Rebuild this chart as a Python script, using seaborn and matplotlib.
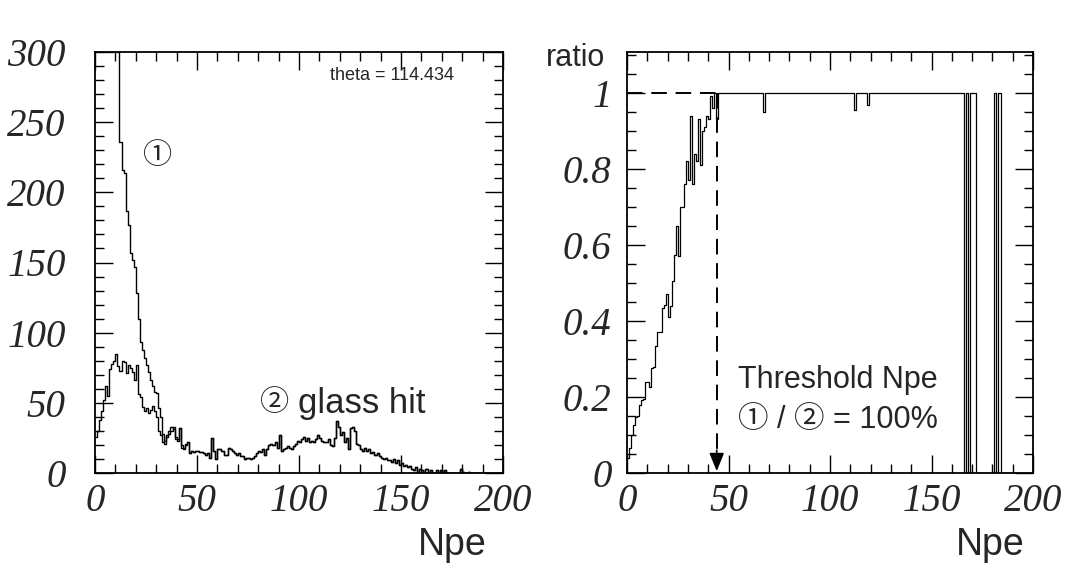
import numpy as np
import pandas as pd
import matplotlib
matplotlib.use("Agg")
import matplotlib.pyplot as plt
from matplotlib.ticker import MultipleLocator, FuncFormatter
import seaborn as sns

# ---------------- data (1 Npe bins, 0..199) ----------------
bin_left = list(range(200))

# histogram 2 : glass hit
hist2 = [
    26, 30, 38, 44, 52, 62, 55, 74, 78, 80,
    85, 76, 73, 80, 79, 71, 77, 75, 72, 66,
    77, 56, 54, 47, 44, 46, 43, 45, 48, 44,
    40, 30, 27, 22, 21, 26, 28, 30, 33, 24,
    23, 32, 18, 17, 20, 22, 14, 16, 15, 16,
    16, 15, 15, 14, 13, 14, 11, 25, 16, 10,
    17, 17, 16, 13, 13, 18, 17, 16, 14, 13,
    14, 12, 12, 10, 11, 11, 10, 11, 12, 14,
    16, 15, 17, 13, 17, 20, 21, 20, 22, 18,
    27, 16, 17, 18, 19, 18, 17, 19, 21, 23,
    22, 24, 26, 23, 25, 22, 23, 22, 24, 27,
    25, 23, 22, 22, 24, 20, 19, 25, 37, 33,
    27, 29, 22, 25, 17, 32, 33, 30, 21, 20,
    17, 16, 18, 16, 17, 14, 15, 13, 14, 12,
    11, 10, 11, 9, 9, 8, 10, 7, 9, 6,
    7, 5, 6, 4, 5, 3, 2, 4, 1, 3,
    2, 1, 3, 0, 2, 0, 0, 2, 0, 2,
    1, 2, 0, 0, 0, 0, 0, 0, 0, 3,
    1, 0, 0, 1, 0, 0, 0, 0, 0, 0,
    0, 0, 0, 0, 0, 0, 0, 0, 0, 0,
]

# histogram 1 : all hits, bins 0..44 (above that it coincides with hist2)
hist1_head = [
    560, 520, 500, 470, 440, 420, 400, 380, 360, 340,
    320, 300, 236, 216, 214, 187, 177, 157, 152, 147,
    128, 110, 93, 88, 82, 77, 72, 66, 62, 58,
    57, 46, 40, 28, 23, 27, 30, 33, 31, 26,
    24, 32, 20, 18, 21,
]

# ratio histogram
ratio = [
    0.04, 0.065, 0.10, 0.127, 0.148, 0.15, 0.18, 0.192, 0.195, 0.24,
    0.24, 0.225, 0.276, 0.28, 0.335, 0.37, 0.37, 0.435, 0.443, 0.47,
    0.41, 0.44, 0.504, 0.574, 0.65, 0.57, 0.70, 0.70, 0.76, 0.82,
    0.77, 0.94, 0.76, 0.84, 0.82, 0.93, 0.81, 0.90, 0.91, 0.94,
    0.93, 0.99, 0.96, 1.0, 0.93, 1.0, 1.0, 1.0, 1.0, 1.0,
    1.0, 1.0, 1.0, 1.0, 1.0, 1.0, 1.0, 1.0, 1.0, 1.0,
    1.0, 1.0, 1.0, 1.0, 1.0, 1.0, 1.0, 0.95, 1.0, 1.0,
    1.0, 1.0, 1.0, 1.0, 1.0, 1.0, 1.0, 1.0, 1.0, 1.0,
    1.0, 1.0, 1.0, 1.0, 1.0, 1.0, 1.0, 1.0, 1.0, 1.0,
    1.0, 1.0, 1.0, 1.0, 1.0, 1.0, 1.0, 1.0, 1.0, 1.0,
    1.0, 1.0, 1.0, 1.0, 1.0, 1.0, 1.0, 1.0, 1.0, 1.0,
    1.0, 1.0, 0.955, 1.0, 1.0, 1.0, 1.0, 1.0, 0.968, 1.0,
    1.0, 1.0, 1.0, 1.0, 1.0, 1.0, 1.0, 1.0, 1.0, 1.0,
    1.0, 1.0, 1.0, 1.0, 1.0, 1.0, 1.0, 1.0, 1.0, 1.0,
    1.0, 1.0, 1.0, 1.0, 1.0, 1.0, 1.0, 1.0, 1.0, 1.0,
    1.0, 1.0, 1.0, 1.0, 1.0, 1.0, 1.0, 1.0, 1.0, 1.0,
    1.0, 1.0, 1.0, 1.0, 1.0, 1.0, 0.0, 1.0, 0.0, 1.0,
    1.0, 1.0, 0.0, 0.0, 0.0, 0.0, 0.0, 0.0, 0.0, 0.0,
    0.0, 1.0, 0.0, 1.0, 0.0, 0.0, 0.0, 0.0, 0.0, 0.0,
    0.0, 0.0, 0.0, 0.0, 0.0, 0.0, 0.0, 0.0, 0.0, 0.0,
]

threshold_npe = 44.2
theta_text = "theta = 114.434"

x_ticks = [0, 50, 100, 150, 200]
left_yticks = [0, 50, 100, 150, 200, 250, 300]
right_yticks = [0, 0.2, 0.4, 0.6, 0.8, 1.0]

# ---------------- style ----------------
sns.set_style("ticks")
plt.rcParams["font.family"] = ["Liberation Sans", "Noto Sans CJK JP", "DejaVu Sans"]

fig = plt.figure(figsize=(10.68, 5.72), dpi=100)
W, H = 1068, 572
def fa(x0, y0, x1, y1):
    return [x0 / W, 1 - y1 / H, (x1 - x0) / W, (y1 - y0) / H]

axL = fig.add_axes(fa(95, 52, 503, 473))
axR = fig.add_axes(fa(627, 52, 1033, 473))

hist1 = hist1_head + hist2[len(hist1_head):]
df1 = pd.DataFrame({"x": bin_left, "w": hist1})
df2 = pd.DataFrame({"x": bin_left, "w": hist2})
dfr = pd.DataFrame({"x": bin_left, "w": ratio})

common = dict(x="x", weights="w", binwidth=1, binrange=(0, 200),
              element="step", fill=False, color="black")
sns.histplot(data=df1, linewidth=1.0, ax=axL, **common)
sns.histplot(data=df2, linewidth=1.0, ax=axL, **common)
sns.histplot(data=dfr, linewidth=0.9, ax=axR, **common)

for ax, yl, yt, ymin, ypad in [
        (axL, (0, 300), left_yticks, 10, 21),
        (axR, (0, 1.107), right_yticks, 0.05, 11)]:
    ax.set_xlim(0, 200)
    ax.set_ylim(*yl)
    ax.set_xticks(x_ticks)
    ax.set_yticks(yt)
    ax.xaxis.set_minor_locator(MultipleLocator(10))
    ax.yaxis.set_minor_locator(MultipleLocator(ymin))
    ax.tick_params(which="both", direction="in", top=True, right=True,
                   color="black", width=1.0)
    ax.tick_params(which="major", length=13)
    ax.tick_params(which="minor", length=6.5)
    ax.tick_params(axis="y", which="major", pad=ypad)
    ax.tick_params(axis="x", which="major", pad=7)
    ax.set_xlabel("")
    ax.set_ylabel("")
    ax.yaxis.set_major_formatter(FuncFormatter(lambda v, p: f"{v:g}"))
    for lab in ax.get_xticklabels() + ax.get_yticklabels():
        lab.set_fontfamily("Liberation Serif")
        lab.set_fontstyle("italic")
        lab.set_fontsize(28)
    for s in ax.spines.values():
        s.set_visible(True)
        s.set_linewidth(1.3)
        s.set_color("black")

# threshold dashed guide
axR.plot([0, threshold_npe], [1.0, 1.0], color="black", lw=1.4,
         dashes=(8, 4.5))
axR.plot([threshold_npe, threshold_npe], [1.0, 0.05], color="black", lw=1.4,
         dashes=(8, 4.5))
axR.annotate("", xy=(threshold_npe, 0.005), xytext=(threshold_npe, 0.06),
             arrowprops=dict(arrowstyle="-|>,head_length=1.1,head_width=0.45",
                             color="black", lw=1.2, shrinkA=0, shrinkB=0))

# annotations
circ = ["Noto Sans CJK JP", "DejaVu Sans"]
fig.text(392 / W, 1 - 75 / H, theta_text, fontsize=13, ha="center", va="center")
fig.text(158 / W, 1 - 156 / H, "①", family=circ, fontsize=21,
         ha="center", va="center")
fig.text(275 / W, 1 - 403 / H, "②", family=circ, fontsize=21,
         ha="center", va="center")
fig.text(298 / W, 1 - 403 / H, "glass hit", fontsize=25, ha="left", va="center")
fig.text(738 / W, 1 - 380 / H, "Threshold Npe", fontsize=22, ha="left", va="center")
fig.text(738 / W, 1 - 420 / H, "① / ② = 100%",
         family=["Liberation Sans", "Noto Sans CJK JP"], fontsize=22,
         ha="left", va="center")
fig.text(452 / W, 1 - 545 / H, "Npe", fontsize=27, ha="center", va="center")
fig.text(990 / W, 1 - 545 / H, "Npe", fontsize=27, ha="center", va="center")
fig.text(575 / W, 1 - 58 / H, "ratio", fontsize=22, ha="center", va="center")

fig.savefig("out.png", dpi=100, facecolor="white")
